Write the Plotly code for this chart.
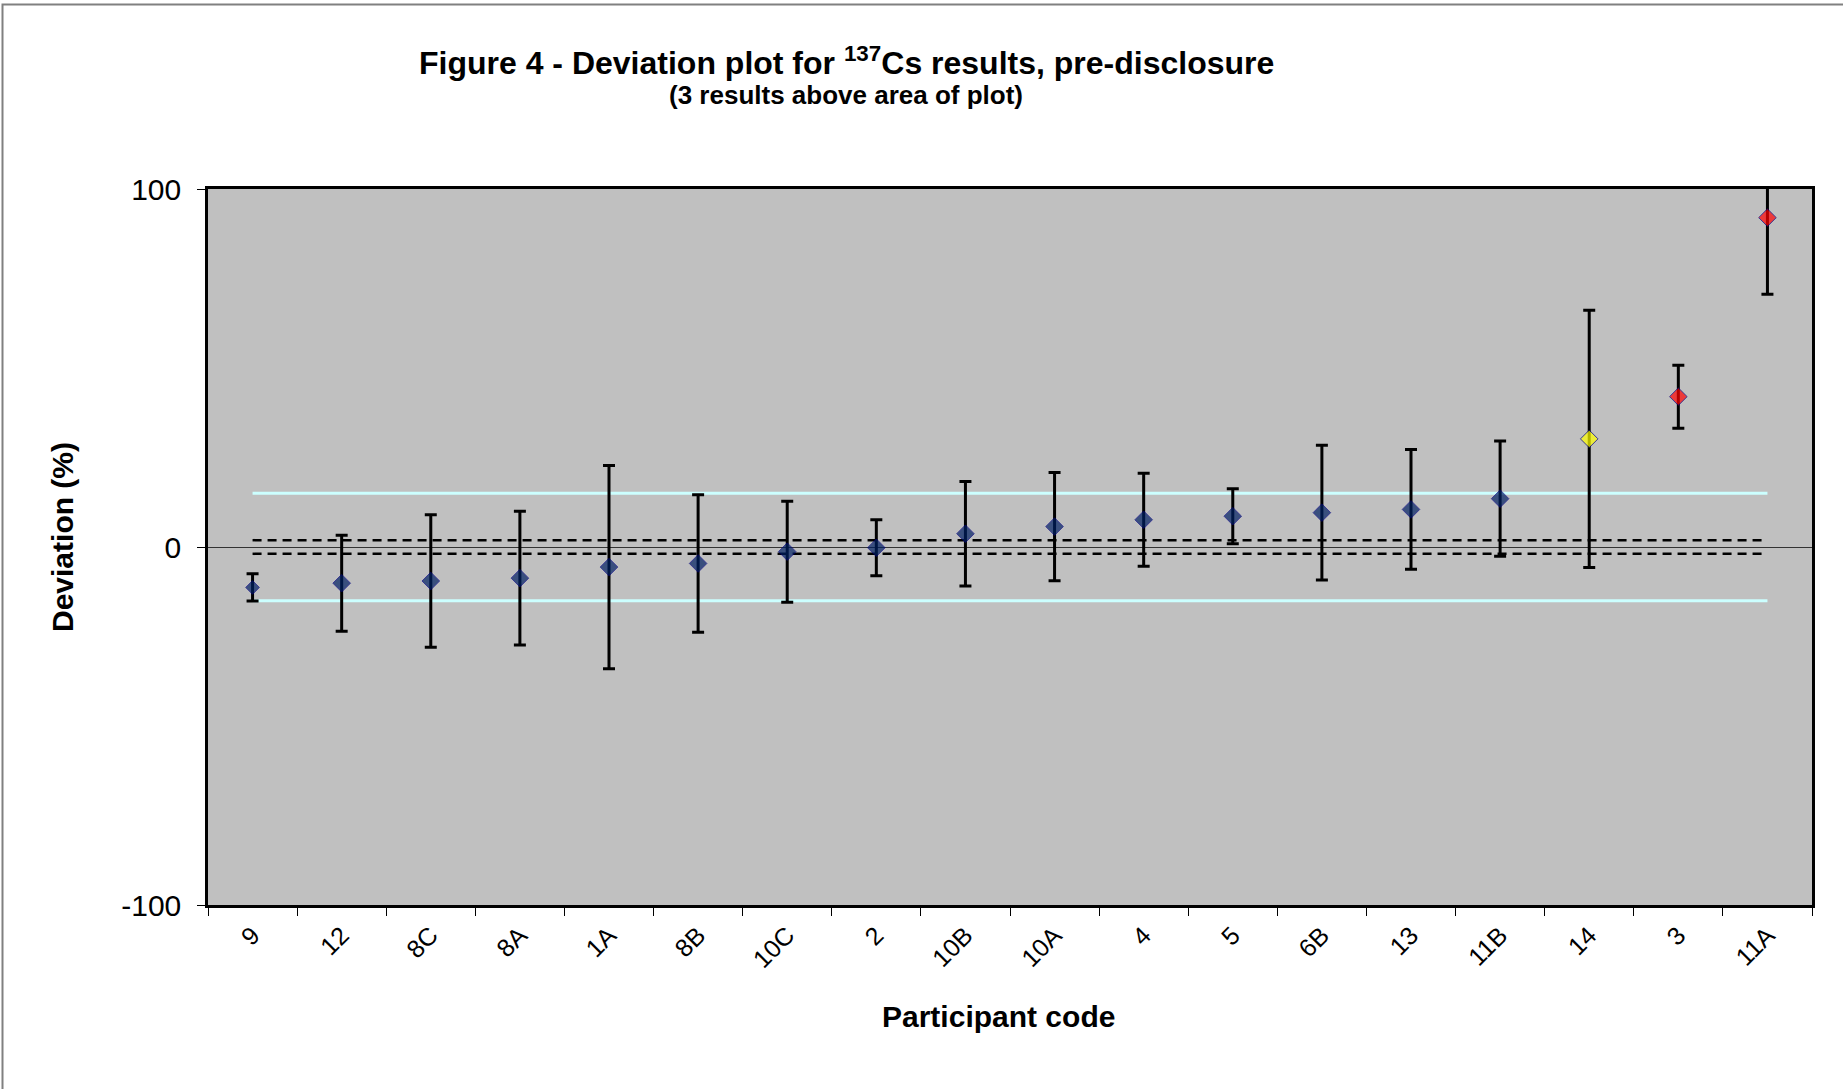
import plotly.graph_objects as go

# Participant codes, in plotted order
codes = ["9", "12", "8C", "8A", "1A", "8B", "10C", "2", "10B", "10A",
         "4", "5", "6B", "13", "11B", "14", "3", "11A"]
# Deviation from the reference value (%)
deviation = [-11.3, -10.1, -9.5, -8.7, -5.6, -4.6, -1.3, -0.2, 3.7, 5.7,
             7.6, 8.6, 9.6, 10.5, 13.5, 30.2, 42.0, 92.0]
# Expanded uncertainty of each result (%)
uncertainty = [3.8, 13.4, 18.5, 18.7, 28.4, 19.2, 14.1, 7.8, 14.6, 15.1,
               13.0, 7.7, 18.8, 16.7, 16.1, 35.9, 8.8, 21.4]
# Acceptance limit and reference-value uncertainty (%)
limit = 15.0
ref_unc = 1.9
y_ticks = [-100, 0, 100]
y_tick_text = ["-100", "0", "100"]

# ---- layout geometry (pixels) ----
W, H = 1843, 1089
PL, PR, PT, PB = 208, 1812, 189, 905
FONT = "Liberation Sans, Arial, Helvetica, sans-serif"


def fx(p):
    return (p - PL) / (PR - PL)


def fy(p):
    return (PB - p) / (PB - PT)


NAVY = "#002063"
point_colors = {"14": "#FFFF00", "3": "#FF0000", "11A": "#FF0000"}
colors = [point_colors.get(c, NAVY) for c in codes]
sizes = [10.5 if c == "9" else 13.5 for c in codes]

fig = go.Figure()

# acceptance limits (light cyan)
for v in (limit, -limit):
    fig.add_trace(go.Scatter(
        x=[codes[0], codes[-1]], y=[v, v], mode="lines",
        line=dict(color="#CCFFFF", width=3), hoverinfo="skip", showlegend=False))

# reference value uncertainty (black dashed)
for v in (ref_unc, -ref_unc):
    fig.add_trace(go.Scatter(
        x=[codes[0], codes[-1]], y=[v, v], mode="lines",
        line=dict(color="black", width=2.5, dash="9px,6px"),
        hoverinfo="skip", showlegend=False))

# participant results with uncertainty bars
fig.add_trace(go.Scatter(
    x=codes, y=deviation, mode="markers",
    marker=dict(symbol="diamond", size=sizes, color=colors,
                line=dict(color="#000080", width=1)),
    error_y=dict(type="data", array=uncertainty, visible=True,
                 color="black", thickness=3, width=6),
    showlegend=False))

fig.update_layout(
    width=W, height=H,
    margin=dict(l=PL, r=W - PR, t=PT, b=H - PB, pad=0),
    paper_bgcolor="white", plot_bgcolor="#C0C0C0",
    font=dict(family=FONT, color="black"),
    showlegend=False,
)

fig.update_xaxes(
    type="category", categoryorder="array", categoryarray=codes,
    range=[-0.5, len(codes) - 0.5],
    tickangle=-45, tickson="boundaries", ticks="outside", ticklen=8,
    tickcolor="black", tickwidth=1,
    tickfont=dict(size=25, family=FONT, color="black"),
    ticklabelstandoff=3,
    showline=True, linecolor="black", linewidth=2.5, mirror=True,
    showgrid=False, zeroline=False,
)

fig.update_yaxes(
    range=[-100, 100], tickvals=y_ticks, ticktext=y_tick_text,
    ticks="outside", ticklen=8, tickcolor="black", tickwidth=1,
    tickfont=dict(size=30, family=FONT, color="black"),
    ticklabelstandoff=10,
    showline=True, linecolor="black", linewidth=2.5, mirror=True,
    showgrid=False, zeroline=True, zerolinecolor="#333333", zerolinewidth=1,
)

annotations = [
    dict(text="<b>Figure 4 - Deviation plot for <sup>137</sup>Cs results, pre-disclosure</b>",
         x=fx(846), y=fy(61), font=dict(size=32, family=FONT)),
    dict(text="<b>(3 results above area of plot)</b>",
         x=fx(846), y=fy(95), font=dict(size=26, family=FONT)),
    dict(text="<b>Deviation (%)</b>", textangle=-90,
         x=fx(62), y=fy(537), font=dict(size=30, family=FONT)),
    dict(text="<b>Participant code</b>",
         x=fx(998), y=fy(1016), font=dict(size=30, family=FONT)),
]
for a in annotations:
    fig.add_annotation(xref="paper", yref="paper", xanchor="center",
                       yanchor="middle", showarrow=False, **a)

# chart-area frame
fig.add_shape(type="rect", xref="paper", yref="paper",
              x0=fx(2.5), x1=fx(1860), y0=fy(1110), y1=fy(4.5),
              line=dict(color="#808080", width=2), fillcolor="rgba(0,0,0,0)",
              layer="above")

fig.write_html("out.html")
